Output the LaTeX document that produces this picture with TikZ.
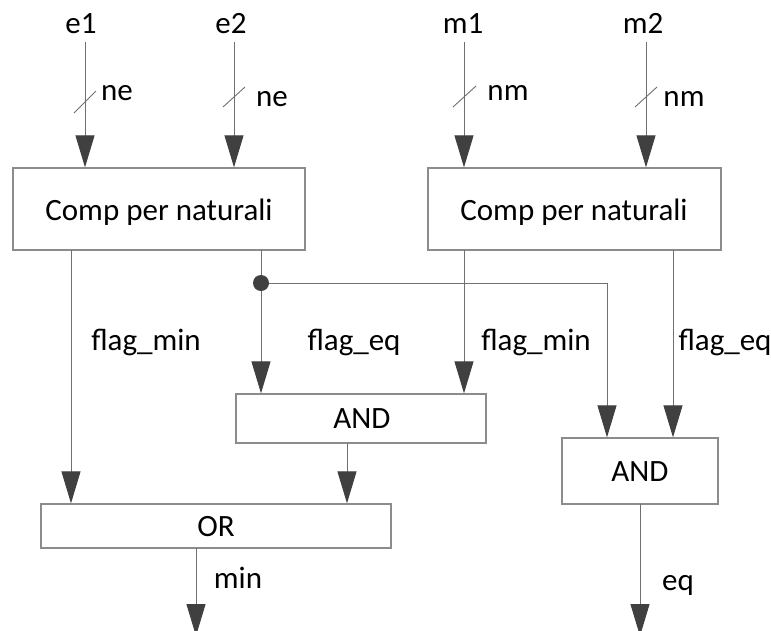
\documentclass[tikz,border=0pt]{standalone}
\usepackage{fontspec}
\setmainfont{Carlito}
\usetikzlibrary{arrows.meta}
\definecolor{linegray}{RGB}{112,112,112}
\definecolor{boxgray}{RGB}{140,140,140}
\definecolor{tipgray}{RGB}{64,64,64}
\begin{document}
\begin{tikzpicture}[x=1pt,y=-1pt,
  every node/.style={font=\fontsize{31}{37}\selectfont},
  blk/.style={draw=boxgray, line width=1.3pt, rectangle, inner sep=0pt},
  lbl/.style={anchor=base, inner sep=0pt},
  wire/.style={draw=linegray, line width=1pt},
  sig/.style={wire, -{Triangle[length=32pt,width=19pt,color=tipgray]}},
  busmark/.style={draw=linegray, line width=0.9pt},
  joint/.style={circle, fill=tipgray, inner sep=0pt, minimum size=16pt}]
\useasboundingbox (0,0) rectangle (771,630);

% blocks
\node[blk, minimum width=292pt, minimum height=82pt] (cmpE) at (159,209) {};
\node[blk, minimum width=293pt, minimum height=82pt] (cmpM) at (574.5,209) {};
\node[blk, minimum width=250pt, minimum height=49pt] (andA) at (361,418.5) {};
\node[blk, minimum width=156pt, minimum height=66pt] (andB) at (640,471) {};
\node[blk, minimum width=350pt, minimum height=44pt] (orG) at (216,526) {};

% block texts
\node[lbl] (tE) at (159,220) {Comp per naturali};
\node[lbl] (tM) at (574,220) {Comp per naturali};
\node[lbl] (tA) at (362,428) {AND};
\node[lbl] (tB) at (640,481) {AND};
\node[lbl] (tO) at (216,536) {OR};

% input names
\node[lbl] (ne1) at (81,33) {e1};
\node[lbl] (ne2) at (231,33) {e2};
\node[lbl] (nm1) at (463,33) {m1};
\node[lbl] (nm2) at (643,33) {m2};

% input wires
\coordinate (ie1) at (85,42);
\coordinate (ie2) at (234,42);
\coordinate (im1) at (464,42);
\coordinate (im2) at (646,42);
\draw[sig] (ie1) -- (ie1 |- cmpE.north);
\draw[sig] (ie2) -- (ie2 |- cmpE.north);
\draw[sig] (im1) -- (im1 |- cmpM.north);
\draw[sig] (im2) -- (im2 |- cmpM.north);

% bus width marks
\draw[busmark] (74,113) -- (96,91);
\draw[busmark] (223,107) -- (245,87);
\draw[busmark] (453,107) -- (476,86);
\draw[busmark] (635,107) -- (657,87);
\node[lbl] (we1) at (117,100) {ne};
\node[lbl] (we2) at (272,106) {ne};
\node[lbl] (wm1) at (508,100) {nm};
\node[lbl] (wm2) at (684,106) {nm};

% comparator outputs
\coordinate (fminE) at (71,250);
\coordinate (feqE) at (261,250);
\coordinate (fminM) at (464,250);
\coordinate (feqM) at (673,250);
\coordinate (br) at (261,283);
\coordinate (brR) at (607,283);
\draw[sig] (fminE) -- (fminE |- orG.north);
\draw[sig] (feqE) -- (feqE |- andA.north);
\draw[sig] (fminM) -- (fminM |- andA.north);
\draw[sig] (feqM) -- (feqM |- andB.north);
\draw[wire] (br) -- (brR);
\draw[sig] (brR) -- (brR |- andB.north);
\node[joint] (dot) at (br) {};

\node[lbl] (lfminE) at (146,350) {flag\_min};
\node[lbl] (lfeqE) at (354,350) {flag\_eq};
\node[lbl] (lfminM) at (536,350) {flag\_min};
\node[lbl] (lfeqM) at (725,350) {flag\_eq};

% gate connections and outputs
\coordinate (andAo) at (347,443);
\draw[sig] (andAo) -- (andAo |- orG.north);
\coordinate (orO) at (196,548);
\coordinate (minEnd) at (196,636);
\draw[sig] (orO) -- (minEnd);
\coordinate (andBo) at (640,504);
\coordinate (eqEnd) at (640,636);
\draw[sig] (andBo) -- (eqEnd);
\node[lbl] (lmin) at (238,588) {min};
\node[lbl] (leq) at (678,590) {eq};
\end{tikzpicture}
\end{document}
